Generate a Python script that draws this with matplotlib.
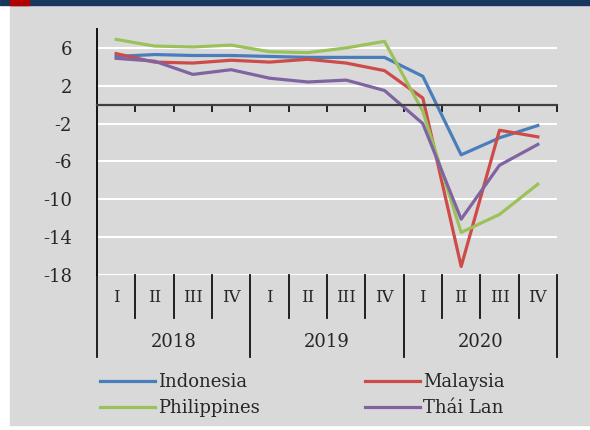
import matplotlib.pyplot as plt
from matplotlib.patches import Rectangle

quarters = ["I", "II", "III", "IV"]
years = ["2018", "2019", "2020"]

indonesia = [5.1, 5.3, 5.2, 5.2, 5.1, 5.0, 5.0, 5.0, 3.0, -5.3, -3.5, -2.2]
malaysia = [5.4, 4.5, 4.4, 4.7, 4.5, 4.8, 4.4, 3.6, 0.7, -17.1, -2.7, -3.4]
philippines = [6.9, 6.2, 6.1, 6.3, 5.6, 5.5, 6.0, 6.7, -0.7, -13.5, -11.6, -8.4]
thailand = [4.9, 4.6, 3.2, 3.7, 2.8, 2.4, 2.6, 1.5, -2.0, -12.1, -6.4, -4.2]

series = [
    ("Indonesia", indonesia, "#4a7ebb"),
    ("Malaysia", malaysia, "#cd4b48"),
    ("Philippines", philippines, "#9bc25a"),
    ("Thái Lan", thailand, "#8064a2"),
]

yticks = [6, 2, -2, -6, -10, -14, -18]

FONT = "DejaVu Serif"
FS = 13
TXT = "#262626"
BG = "#d9d9d9"

fig = plt.figure(figsize=(5.9, 4.3), dpi=100, facecolor="white")

# panel background + header bar
fig.patches.append(Rectangle((10 / 590, 0.012), 580 / 590, 1 - 0.012 - 5 / 430,
                             transform=fig.transFigure, color=BG, zorder=-10))
fig.patches.append(Rectangle((0, 1 - 5 / 430), 1, 5 / 430,
                             transform=fig.transFigure, color="#17375e", zorder=-9))
fig.patches.append(Rectangle((10 / 590, 1 - 5 / 430), 19 / 590, 5 / 430,
                             transform=fig.transFigure, color="#b00000", zorder=-8))

ax = fig.add_axes([97 / 590, 1 - 275 / 430, 460 / 590, 246 / 430])
ax.set_facecolor(BG)

n = len(indonesia)
x = list(range(n))
lines = {}
for name, vals, col in series:
    lines[name], = ax.plot(x, vals, color=col, lw=2.3, label=name)

ax.set_xlim(-0.5, n - 0.5)
ax.set_ylim(-18, 8)
ax.set_yticks(yticks)
ax.set_yticklabels([str(v) for v in yticks], fontsize=FS, family=FONT, color=TXT)
ax.tick_params(axis="y", length=0, pad=18)
ax.yaxis.grid(True, color="white", lw=1.5)
ax.set_axisbelow(True)

for s in ["top", "right"]:
    ax.spines[s].set_visible(False)
ax.spines["left"].set_color("#111111")
ax.spines["left"].set_linewidth(1.4)
ax.spines["bottom"].set_position(("data", 0))
ax.spines["bottom"].set_color("#404040")
ax.spines["bottom"].set_linewidth(1.6)
ax.set_xticks([k + 0.5 for k in range(n)])
ax.set_xticklabels([])
ax.tick_params(axis="x", direction="out", length=5, width=1.4, color="#222222")

# multi-level category axis below the plot
trans = ax.get_xaxis_transform()
for k in range(1, n):
    if k % 4 == 0:
        continue
    ax.plot([k - 0.5, k - 0.5], [0, -0.174], transform=trans, color="#111111",
            lw=1.3, clip_on=False)
for k in range(0, n + 1, 4):
    ax.plot([k - 0.5, k - 0.5], [0, -0.332], transform=trans, color="#111111",
            lw=1.3, clip_on=False)
for k in range(n):
    ax.text(k, -0.093, quarters[k % 4], transform=trans, ha="center", va="center",
            fontsize=FS - 1, family=FONT, color=TXT)
for j, yr in enumerate(years):
    ax.text(j * 4 + 1.5, -0.271, yr, transform=trans, ha="center", va="center",
            fontsize=FS, family=FONT, color=TXT)

order = ["Indonesia", "Philippines", "Malaysia", "Thái Lan"]
leg = fig.legend([lines[k] for k in order], order,
                 loc="upper left", bbox_to_anchor=(93 / 590, 1 - 366 / 430), ncol=2,
                 frameon=False, handlelength=3.05, handletextpad=0.15,
                 columnspacing=5.85, labelspacing=0.45, borderaxespad=0,
                 prop={"family": FONT, "size": FS})
for t in leg.get_texts():
    t.set_color(TXT)

fig.savefig("out.png", dpi=100, facecolor=fig.get_facecolor())
